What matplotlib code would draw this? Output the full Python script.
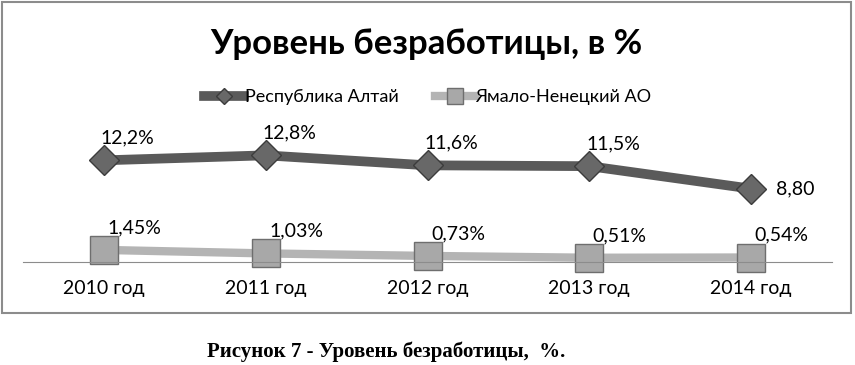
import matplotlib.pyplot as plt
from matplotlib.patches import Rectangle

years = ['2010 год', '2011 год', '2012 год', '2013 год', '2014 год']
altai = [12.2, 12.8, 11.6, 11.5, 8.8]
yanao = [1.45, 1.03, 0.73, 0.51, 0.54]
altai_labels = ['12,2%', '12,8%', '11,6%', '11,5%', '8,80']
yanao_labels = ['1,45%', '1,03%', '0,73%', '0,51%', '0,54%']

plt.rcParams['font.family'] = ['Lato', 'DejaVu Sans']

fig = plt.figure(figsize=(8.55, 3.65), dpi=100)

# chart frame
fig.patches.append(Rectangle((2/855, 1 - 313/365), 849/855, 311/365,
                             transform=fig.transFigure, fill=False,
                             edgecolor='#8c8c8c', linewidth=1.5))

ax = fig.add_axes([23/855, 1 - 262/365, 809/855, 125/365])
x = list(range(len(years)))

ax.plot(x, altai, color='#5a5a5a', linewidth=7, marker='D', markersize=15,
        markerfacecolor='#686868', markeredgecolor='#3c3c3c', markeredgewidth=1,
        label='Республика Алтай', clip_on=False, zorder=3)
ax.plot(x, yanao, color='#b4b4b4', linewidth=6, marker='s', markersize=20,
        markerfacecolor='#a8a8a8', markeredgecolor='#6e6e6e', markeredgewidth=1,
        label='Ямало-Ненецкий АО', clip_on=False, zorder=2)

for i in x:
    if i == len(x) - 1:
        ax.annotate(altai_labels[i], (i, altai[i]), xytext=(18, 0),
                    textcoords='offset points', ha='left', va='center',
                    fontsize=14)
    else:
        ax.annotate(altai_labels[i], (i, altai[i]), xytext=(17, 16),
                    textcoords='offset points', ha='center', va='center',
                    fontsize=14)
    ax.annotate(yanao_labels[i], (i, yanao[i]), xytext=(22, 16),
                textcoords='offset points', ha='center', va='center',
                fontsize=14)

ax.set_xlim(-0.5, len(years) - 0.5)
ax.set_ylim(0, 15)
ax.set_xticks(x)
ax.set_xticklabels(years, fontsize=14)
ax.tick_params(axis='x', length=0, pad=13)
ax.set_yticks([])
for s in ['top', 'right', 'left']:
    ax.spines[s].set_visible(False)
ax.spines['bottom'].set_color('#8c8c8c')
ax.patch.set_alpha(0)

fig.text(426/855, 1 - 44/365, 'Уровень безработицы, в %', ha='center',
         va='center', fontsize=25, fontweight='bold')
fig.legend(loc='center', bbox_to_anchor=(428/855, 1 - 97/365), ncol=2,
           frameon=False, fontsize=13, handlelength=2.2, handletextpad=0.05,
           columnspacing=2.0, markerscale=0.55)

fig.text(386/855, 1 - 352/365, 'Рисунок 7 - Уровень безработицы,  %.',
         ha='center', va='center', fontsize=15, fontweight='bold',
         family='Liberation Serif')

fig.savefig('out.png', dpi=100)
